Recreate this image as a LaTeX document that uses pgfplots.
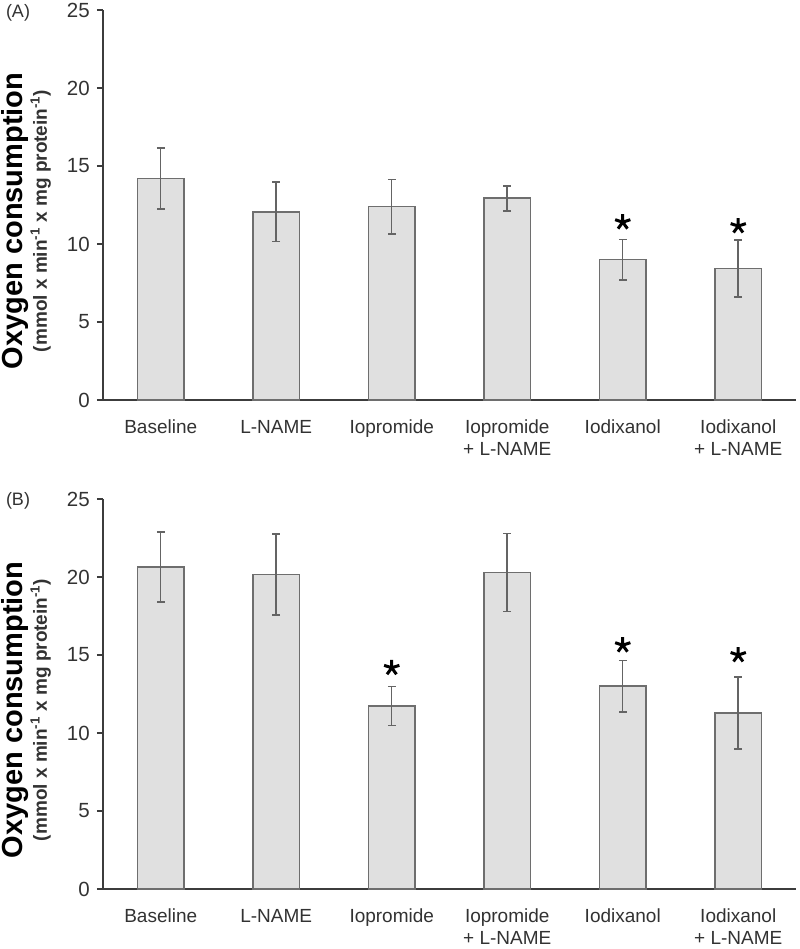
\documentclass[border=0pt]{standalone}
\usepackage{pgfplots}
\pgfplotsset{compat=1.18}
\usepackage{fontspec}
\setmainfont{Liberation Sans}
\definecolor{barfill}{RGB}{224,224,224}
\definecolor{baredge}{RGB}{110,110,110}
\definecolor{errgray}{RGB}{100,100,100}
\definecolor{axisgray}{RGB}{60,60,60}
\definecolor{textgray}{RGB}{50,50,50}
\pgfplotsset{
  myaxis/.style={
    scale only axis, width=693bp, height=390bp,
    xmin=-0.5, xmax=5.5, ymin=0, ymax=25,
    axis x line*=bottom, axis y line*=left,
    axis line style={draw=axisgray, line width=2.5bp, -},
    ytick={0,5,...,25},
    xtick={0,...,5},
    xticklabels={Baseline, L-NAME, Iopromide, Iopromide\\+ L-NAME, Iodixanol, Iodixanol\\+ L-NAME},
    tick align=outside,
    major tick length=6bp,
    major x tick style={draw=none},
    major y tick style={draw=axisgray, line width=1.5bp},
    /pgf/number format/assume math mode=true,
    yticklabel style={font=\fontsize{20.5bp}{24bp}\selectfont, text=textgray, anchor=east, inner sep=0pt, xshift=-7bp},
    xticklabel style={font=\fontsize{19bp}{22bp}\selectfont, text=textgray, align=center, anchor=north, inner sep=0pt, yshift=-14bp},
    clip=false,
  },
  mybar/.style={
    ybar, bar width=0.4, fill=barfill, draw=baredge, line width=1.6bp,
    error bars/.cd, y dir=both, y explicit,
    error bar style={line width=1.5bp, color=errgray},
    error mark options={rotate=90, mark size=3.8bp, line width=1.5bp, color=errgray},
  },
  mystar/.style={only marks, mark=star, mark size=8bp, mark options={line width=3bp, color=black}},
}
\begin{document}
\begin{tikzpicture}
% Panel A
\begin{axis}[myaxis, at={(0bp,0bp)}, anchor=south west]
\addplot[mybar] coordinates {
  (0,14.20) +- (0,1.95)
  (1,12.07) +- (0,1.90)
  (2,12.40) +- (0,1.75)
  (3,12.93) +- (0,0.80)
  (4,9.00) +- (0,1.30)
  (5,8.44) +- (0,1.83)
};
\addplot[mystar] coordinates {(4,11.40) (5,11.15)};
\end{axis}
% Panel B
\begin{axis}[myaxis, at={(0bp,-489bp)}, anchor=south west]
\addplot[mybar] coordinates {
  (0,20.63) +- (0,2.24)
  (1,20.16) +- (0,2.60)
  (2,11.74) +- (0,1.25)
  (3,20.29) +- (0,2.50)
  (4,13.00) +- (0,1.65)
  (5,11.29) +- (0,2.30)
};
\addplot[mystar] coordinates {(2,14.18) (4,15.63) (5,15.00)};
\end{axis}
% labels
\node[font=\fontsize{18bp}{20bp}\selectfont, text=textgray] at (-85bp,387.5bp) {(A)};
\node[font=\fontsize{18bp}{20bp}\selectfont, text=textgray] at (-85bp,-100.5bp) {(B)};
\foreach \yy in {179,-310}{
  \node[rotate=90, anchor=base, font=\fontsize{29bp}{32bp}\selectfont\bfseries] at (-80bp,\yy bp) {Oxygen consumption};
  \node[rotate=90, anchor=base, font=\fontsize{19bp}{22bp}\selectfont\bfseries, text=textgray] at (-56bp,\yy bp) {(mmol x min\textsuperscript{-1} x mg protein\textsuperscript{-1})};
}
\pgfresetboundingbox
\path[use as bounding box] (-103bp,-549bp) rectangle (697bp,400bp);
\end{tikzpicture}
\end{document}
